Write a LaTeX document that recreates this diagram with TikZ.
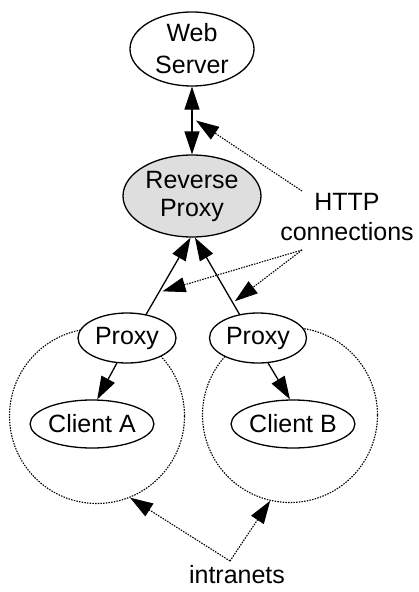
\documentclass[tikz,border=0pt]{standalone}
\usepackage{fontspec}
\setmainfont{Liberation Sans}
\usetikzlibrary{shapes.geometric,arrows.meta,calc}
\begin{document}
\begin{tikzpicture}[x=1pt,y=-1pt,
  every node/.style={font=\fontsize{25}{30}\selectfont},
  oval/.style={ellipse, draw, line width=1.3pt, inner sep=0pt, fill=white, align=center},
  link/.style={line width=1.3pt, -{Triangle[length=23pt,width=15pt]}},
  twoway/.style={line width=1.3pt, {Triangle[length=23pt,width=15pt]}-{Triangle[length=23pt,width=15pt]}},
  note/.style={line width=1.1pt, dash pattern=on 1.5pt off 1.2pt, -{Triangle[length=23pt,width=15pt]}},
  zone/.style={ellipse, draw, line width=1.1pt, dash pattern=on 1.5pt off 1.2pt,
    minimum width=175pt, minimum height=175pt, inner sep=0pt}]
\useasboundingbox (0,0) rectangle (418,592);

% intranet boundaries (behind everything)
\node[zone] (circL) at (97,416) {};
\node[zone] (circR) at (290,415) {};

% hosts
\node[oval, minimum width=124pt, minimum height=74pt, font=\fontsize{25}{32}\selectfont] (web) at (192,49) {Web\\Server};
\node[oval, fill=black!13, minimum width=138pt, minimum height=82pt, font=\fontsize{25}{28}\selectfont] (rproxy) at (192,196) {Reverse\\Proxy};
\node[oval, minimum width=98pt, minimum height=50pt] (proxyL) at (127,338) {Proxy};
\node[oval, minimum width=97pt, minimum height=50pt] (proxyR) at (258,338) {Proxy};
\node[oval, minimum width=116pt, minimum height=48pt] (clientA) at (92,424) {Client A};
\node[oval, minimum width=116pt, minimum height=48pt] (clientB) at (293,424) {Client B};

% labels
\node[anchor=north, inner sep=0pt, align=center] (http) at (347,193) {HTTP\\connections};
\node[anchor=base, inner sep=0pt] (intra) at (237,583) {intranets};

% label pointer origins
\coordinate (hsrc1) at (302,191);
\coordinate (hsrc2) at (302,250);
\coordinate (isrc) at (230,561);

% connections
\draw[twoway] (rproxy.north) -- coordinate[pos=0.5] (mid) (web.south);
\draw[link] (proxyL.51) -- coordinate[pos=0.3] (hL) (rproxy.268);
\draw[link] (proxyR.128) -- coordinate[pos=0.17] (hR) (rproxy.274);
\draw[link] (proxyL.248) -- (clientA.78);
\draw[link] (proxyR.292) -- (clientB.97);

% annotation pointers
\draw[note] (hsrc1) -- ([xshift=4pt]mid);
\draw[note] (hsrc2) -- ([xshift=3pt]hL);
\draw[note] (hsrc2) -- ([xshift=3pt]hR);
\draw[note] (isrc) -- (circL.-68);
\draw[note] (isrc) -- (circR.257);
\end{tikzpicture}
\end{document}
